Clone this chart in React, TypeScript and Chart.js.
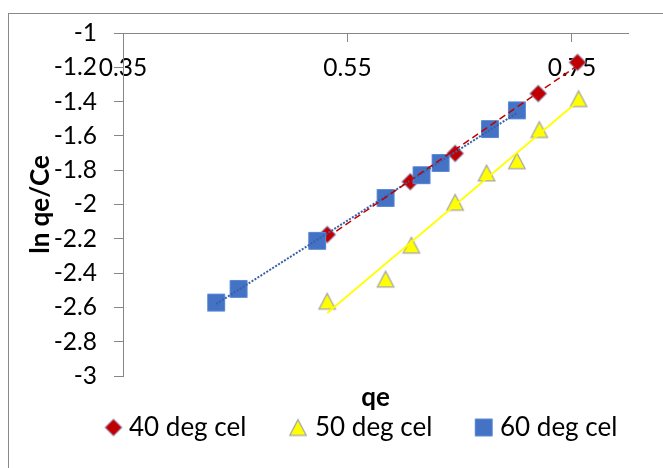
import React, { useEffect, useRef } from "react";
import { Chart, registerables } from "chart.js";

Chart.register(...registerables);

// ---- data ----
const seriesNames = ["40 deg cel", "50 deg cel", "60 deg cel"];

const qe40 = [0.532, 0.606, 0.646, 0.72, 0.755];
const lnq40 = [-2.175, -1.867, -1.702, -1.353, -1.171];

const qe50 = [0.532, 0.584, 0.607, 0.646, 0.674, 0.701, 0.721, 0.756];
const lnq50 = [-2.564, -2.435, -2.237, -1.987, -1.816, -1.745, -1.563, -1.383];

const qe60 = [0.433, 0.453, 0.523, 0.584, 0.616, 0.633, 0.677, 0.701];
const lnq60 = [-2.572, -2.492, -2.212, -1.962, -1.829, -1.758, -1.56, -1.451];

const xTickValues = [0.35, 0.55, 0.75];
const xMin = 0.35;
const xMax = 0.8;
const yMin = -3;
const yMax = -1;
const yStep = 0.2;
const xAxisTitle = "qe";
const yAxisTitle = "ln qe/Ce";

// ---- helpers ----
const toPoints = (xs: number[], ys: number[]) => xs.map((x, i) => ({ x, y: ys[i] }));

// least-squares linear trendline spanning the series' x range (like Excel's trendline)
function trendLine(xs: number[], ys: number[]) {
  const n = xs.length;
  const mx = xs.reduce((a, b) => a + b, 0) / n;
  const my = ys.reduce((a, b) => a + b, 0) / n;
  let sxy = 0;
  let sxx = 0;
  for (let i = 0; i < n; i++) {
    sxy += (xs[i] - mx) * (ys[i] - my);
    sxx += (xs[i] - mx) * (xs[i] - mx);
  }
  const slope = sxy / sxx;
  const b = my - slope * mx;
  const x0 = Math.min(...xs);
  const x1 = Math.max(...xs);
  return [
    { x: x0, y: b + slope * x0 },
    { x: x1, y: b + slope * x1 },
  ];
}

function makeMarker(kind: "diamond" | "triangle" | "square"): HTMLCanvasElement {
  const c = document.createElement("canvas");
  const s = 20;
  c.width = s;
  c.height = s;
  const g = c.getContext("2d")!;
  const m = s / 2;
  g.beginPath();
  if (kind === "diamond") {
    const r = 8.5;
    g.moveTo(m, m - r);
    g.lineTo(m + r, m);
    g.lineTo(m, m + r);
    g.lineTo(m - r, m);
    g.closePath();
    g.fillStyle = "#C00000";
    g.fill();
    g.strokeStyle = "#7FB0E3";
    g.lineWidth = 1;
    g.stroke();
  } else if (kind === "triangle") {
    g.moveTo(m, m - 7.8);
    g.lineTo(m + 8.2, m + 7.8);
    g.lineTo(m - 8.2, m + 7.8);
    g.closePath();
    g.fillStyle = "#FFFF00";
    g.fill();
    g.strokeStyle = "#A6A6A6";
    g.lineWidth = 1.3;
    g.stroke();
  } else {
    g.rect(m - 8.5, m - 8.5, 17, 17);
    g.fillStyle = "#4472C4";
    g.fill();
    g.strokeStyle = "#5B8AD6";
    g.lineWidth = 1;
    g.stroke();
  }
  return c;
}

const FONT = "Lato";
const AXIS_GRAY = "#868686";

export default function App() {
  const ref = useRef<HTMLCanvasElement | null>(null);

  useEffect(() => {
    const canvas = ref.current;
    if (!canvas) return;

    const markers = [makeMarker("diamond"), makeMarker("triangle"), makeMarker("square")];

    const framePlugin = {
      id: "frame",
      beforeDraw(chart: any) {
        const ctx = chart.ctx;
        ctx.save();
        ctx.fillStyle = "#ffffff";
        ctx.fillRect(0, 0, chart.width, chart.height);
        ctx.strokeStyle = "#8A8A8A";
        ctx.lineWidth = 1;
        ctx.strokeRect(8.5, 13.5, 800, 600);
        ctx.restore();
      },
    };

    // legend row below the axis title, laid out like the reference
    const legendMarkerX = [113.5, 298, 483.7];
    const legendTextX = [129, 315, 500];
    const legendPlugin = {
      id: "bottomLegend",
      afterDraw(chart: any) {
        const ctx = chart.ctx;
        ctx.save();
        ctx.font = `26px ${FONT}`;
        ctx.textBaseline = "middle";
        ctx.textAlign = "left";
        ctx.fillStyle = "#000";
        const y = 427.5;
        seriesNames.forEach((t, i) => {
          const mk = markers[i];
          ctx.drawImage(mk, legendMarkerX[i] - mk.width / 2, y - mk.height / 2);
          ctx.fillText(t, legendTextX[i], y);
        });
        ctx.restore();
      },
    };

    const tickFont = { family: FONT, size: 24.5 };
    const titleFont = { family: FONT, size: 26, weight: "bold" as const, lineHeight: 1 };

    const chart = new Chart(canvas, {
      type: "scatter",
      data: {
        datasets: [
          {
            label: "trend " + seriesNames[0],
            data: trendLine(qe40, lnq40),
            showLine: true,
            borderColor: "#C00000",
            borderWidth: 1.5,
            borderDash: [7, 4],
            pointRadius: 0,
            order: 0,
          },
          {
            label: "trend " + seriesNames[2],
            data: trendLine(qe60, lnq60),
            showLine: true,
            borderColor: "#3A5FA8",
            borderWidth: 2,
            borderDash: [2, 1.5],
            pointRadius: 0,
            order: 1,
          },
          {
            label: "trend " + seriesNames[1],
            data: trendLine(qe50, lnq50),
            showLine: true,
            borderColor: "#FFFF00",
            borderWidth: 1.75,
            pointRadius: 0,
            order: 2,
          },
          {
            label: seriesNames[2],
            data: toPoints(qe60, lnq60),
            pointStyle: markers[2],
            pointRadius: 10,
            showLine: false,
            order: 3,
          },
          {
            label: seriesNames[1],
            data: toPoints(qe50, lnq50),
            pointStyle: markers[1],
            pointRadius: 10,
            showLine: false,
            order: 4,
          },
          {
            label: seriesNames[0],
            data: toPoints(qe40, lnq40),
            pointStyle: markers[0],
            pointRadius: 10,
            showLine: false,
            order: 5,
          },
        ],
      },
      options: {
        animation: false,
        responsive: false,
        events: [],
        layout: { padding: { top: 33, right: 35, bottom: 52, left: 0 } },
        plugins: {
          legend: { display: false },
          tooltip: { enabled: false },
        },
        scales: {
          x: {
            type: "linear",
            position: { y: yMax },
            min: xMin,
            max: xMax,
            afterBuildTicks: (s: any) => {
              s.ticks = xTickValues.map((v) => ({ value: v }));
            },
            ticks: {
              font: tickFont,
              color: "#000",
              padding: 12,
              maxRotation: 0,
              autoSkip: false,
              callback: (v: any) => String(v),
            },
            grid: { drawOnChartArea: false, tickLength: 8, color: AXIS_GRAY },
            border: { color: AXIS_GRAY, width: 1 },
          },
          xTitle: {
            type: "linear",
            axis: "x",
            position: "bottom",
            min: xMin,
            max: xMax,
            ticks: { display: false },
            grid: { display: false },
            border: { display: false },
            title: {
              display: true,
              text: xAxisTitle,
              color: "#000",
              font: titleFont,
              padding: { top: 0, bottom: 5 },
            },
            afterFit: (s: any) => {
              s.height = 40;
            },
          },
          y: {
            type: "linear",
            position: "left",
            min: yMin,
            max: yMax,
            ticks: {
              stepSize: yStep,
              font: tickFont,
              color: "#000",
              padding: 17,
              callback: (v: any) => String(Math.round(Number(v) * 10) / 10),
            },
            grid: { drawOnChartArea: false, tickLength: 9, color: AXIS_GRAY },
            border: { color: AXIS_GRAY, width: 1 },
            title: {
              display: true,
              text: yAxisTitle,
              color: "#000",
              font: titleFont,
              padding: { top: 28, bottom: 0 },
            },
            afterFit: (s: any) => {
              s.width = 123;
            },
          },
        } as any,
      },
      plugins: [framePlugin, legendPlugin],
    });

    return () => chart.destroy();
  }, []);

  return (
    <div style={{ position: "absolute", left: 0, top: 0, width: 663, height: 468 }}>
      <canvas ref={ref} width={663} height={468} style={{ display: "block" }} />
    </div>
  );
}
